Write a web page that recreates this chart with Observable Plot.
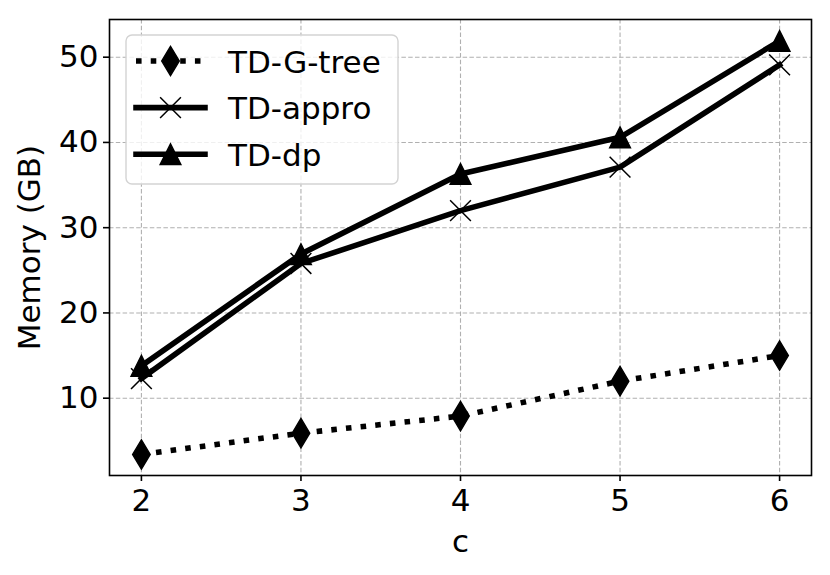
<!DOCTYPE html>
<html>
<head>
<meta charset="utf-8">
<script src="https://cdn.jsdelivr.net/npm/d3@7"></script>
<script src="https://cdn.jsdelivr.net/npm/@observablehq/plot@0.6"></script>
<style>
  body { margin: 0; background: white; }
  #wrap { position: relative; width: 830px; height: 575px; }
  #legend { position: absolute; left: 0; top: 0; }
</style>
</head>
<body>
<div id="wrap"></div>
<script>
// ---- data ----
const cValues = [2, 3, 4, 5, 6];
const gtree = [3.4, 5.9, 7.9, 12.0, 15.0];
const appro = [12.3, 25.8, 32.0, 37.1, 49.1];
const dp = [13.8, 26.9, 36.3, 40.6, 51.9];
const seriesNames = ["TD-G-tree", "TD-appro", "TD-dp"];
const xTicks = [2, 3, 4, 5, 6];
const yTicks = [10, 20, 30, 40, 50];

const seriesValues = [gtree, appro, dp];
const rows = seriesNames.flatMap((s, i) => cValues.map((c, j) => ({series: s, c, v: seriesValues[i][j]})));
const bySeries = name => rows.filter(d => d.series === name);

// ---- marker shapes (matplotlib-like) ----
const thinDiamond = {draw(ctx) { const hw = 8.8, hh = 14.7; ctx.moveTo(0, -hh); ctx.lineTo(hw, 0); ctx.lineTo(0, hh); ctx.lineTo(-hw, 0); ctx.closePath(); }};
const triangleUp = {draw(ctx) { const h = 10.4; ctx.moveTo(0, -h); ctx.lineTo(h, h); ctx.lineTo(-h, h); ctx.closePath(); }};
const xMark = {draw(ctx) { const h = 10.4; ctx.moveTo(-h, -h); ctx.lineTo(h, h); ctx.moveTo(-h, h); ctx.lineTo(h, -h); }};

const LW = 5.56;
const dotted = "5.56,9.17";

const chart = Plot.plot({
  width: 830,
  height: 575,
  marginLeft: 109,
  marginRight: 19,
  marginTop: 19,
  marginBottom: 100,
  style: {fontFamily: "'DejaVu Sans', sans-serif", fontSize: "31px", color: "black", background: "white", overflow: "visible"},
  x: {domain: [1.8, 6.2]},
  y: {domain: [0.93, 54.42]},
  marks: [
    Plot.gridX(xTicks, {stroke: "#b0b0b0", strokeOpacity: 1, strokeWidth: 1.1, strokeDasharray: "4.5,2.3"}),
    Plot.gridY(yTicks, {stroke: "#b0b0b0", strokeOpacity: 1, strokeWidth: 1.1, strokeDasharray: "4.5,2.3"}),
    Plot.axisX(xTicks, {tickSize: 6, tickPadding: 7, strokeWidth: 1.6, tickFormat: d3.format("d"), label: "c", labelAnchor: "center", labelOffset: 76, labelArrow: "none"}),
    Plot.axisY(yTicks, {tickSize: 6, tickPadding: 5, strokeWidth: 1.6, tickFormat: d3.format("d"), label: "Memory (GB)", labelAnchor: "center", labelOffset: 92, labelArrow: "none"}),
    // TD-G-tree
    Plot.line(bySeries("TD-G-tree"), {x: "c", y: "v", stroke: "black", strokeWidth: LW, strokeDasharray: dotted, strokeLinecap: "butt"}),
    Plot.dot(bySeries("TD-G-tree"), {x: "c", y: "v", symbol: thinDiamond, fill: "black", stroke: "black", strokeWidth: 1.4}),
    // TD-appro
    Plot.line(bySeries("TD-appro"), {x: "c", y: "v", stroke: "black", strokeWidth: LW, strokeLinejoin: "round", strokeLinecap: "square"}),
    Plot.dot(bySeries("TD-appro"), {x: "c", y: "v", symbol: xMark, fill: "none", stroke: "black", strokeWidth: 1.5}),
    // TD-dp
    Plot.line(bySeries("TD-dp"), {x: "c", y: "v", stroke: "black", strokeWidth: LW, strokeLinejoin: "round", strokeLinecap: "square"}),
    Plot.dot(bySeries("TD-dp"), {x: "c", y: "v", symbol: triangleUp, fill: "black", stroke: "black", strokeWidth: 1.4}),
    Plot.frame({stroke: "black", strokeWidth: 1.6})
  ]
});
document.getElementById("wrap").appendChild(chart);

// ---- legend (overlay) ----
const leg = d3.select("#wrap").append("svg").attr("id", "legend").attr("width", 830).attr("height", 575)
  .style("font-family", "'DejaVu Sans', sans-serif").style("font-size", "31px");
leg.append("rect").attr("x", 126).attr("y", 35).attr("width", 272).attr("height", 149).attr("rx", 6)
  .attr("fill", "white").attr("fill-opacity", 0.8).attr("stroke", "#d3d3d3").attr("stroke-width", 1.4);
const legendSymbols = [thinDiamond, xMark, triangleUp];
const legendDash = [dotted, null, null];
const legendFill = ["black", "none", "black"];
const legendSW = [1.4, 1.5, 1.4];
seriesNames.forEach((name, i) => {
  const cy = 61 + i * 46.6;
  leg.append("line").attr("x1", 136).attr("x2", 205).attr("y1", cy).attr("y2", cy)
    .attr("stroke", "black").attr("stroke-width", LW)
    .attr("stroke-dasharray", legendDash[i]).attr("stroke-linecap", legendDash[i] ? "butt" : "square");
  leg.append("path").attr("transform", `translate(170.5,${cy})`)
    .attr("d", d3.symbol(legendSymbols[i], 64)())
    .attr("fill", legendFill[i]).attr("stroke", "black").attr("stroke-width", legendSW[i]);
  leg.append("text").attr("x", 228).attr("y", cy + 11.5).attr("fill", "black").text(name);
});
</script>
</body>
</html>
